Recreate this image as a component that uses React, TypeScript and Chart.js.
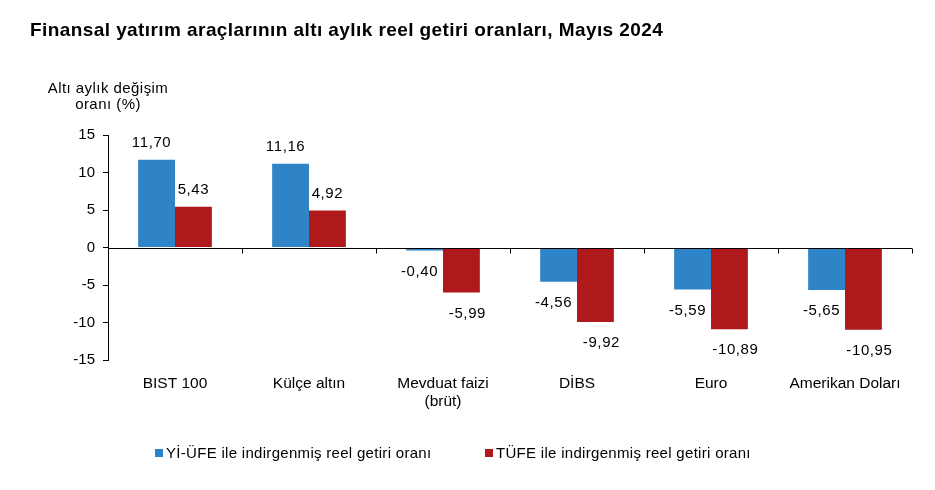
import React, { useEffect, useRef } from 'react';
import { Chart, registerables } from 'chart.js';

Chart.register(...registerables);

const titleText = 'Finansal yatırım araçlarının altı aylık reel getiri oranları, Mayıs 2024';
const yAxisTitle = ['Altı aylık değişim', 'oranı (%)'];
const categories = [['BIST 100'], ['Külçe altın'], ['Mevduat faizi', '(brüt)'], ['DİBS'], ['Euro'], ['Amerikan Doları']];
const seriesNames = ['Yİ-ÜFE ile indirgenmiş reel getiri oranı', 'TÜFE ile indirgenmiş reel getiri oranı'];
const yiUfe = [11.7, 11.16, -0.4, -4.56, -5.59, -5.65];
const tufe = [5.43, 4.92, -5.99, -9.92, -10.89, -10.95];
const yMin = -15;
const yMax = 15;
const yStep = 5;

const BLUE = '#2E84C6';
const RED = '#B0191B';
const FONT = '"Liberation Sans", Arial, sans-serif';

const fmt = (v: number) => v.toFixed(2).replace('.', ',');

const overlay = {
  id: 'overlay',
  afterDatasetsDraw(chart: any) {
    const ctx = chart.ctx;
    const { left, right } = chart.chartArea;
    const y = chart.scales.y;
    const x = chart.scales.x;
    const y0 = Math.round(y.getPixelForValue(0)) + 0.5;
    ctx.save();
    ctx.strokeStyle = '#000';
    ctx.lineWidth = 1;
    ctx.beginPath();
    ctx.moveTo(left, y0);
    ctx.lineTo(right, y0);
    const n = categories.length;
    for (let i = 0; i < n; i++) {
      const bx = i < n - 1 ? (x.getPixelForValue(i) + x.getPixelForValue(i + 1)) / 2 : right;
      const px = Math.round(bx) + 0.5;
      ctx.moveTo(px, y0);
      ctx.lineTo(px, y0 + 5);
    }
    ctx.stroke();

    ctx.fillStyle = '#000';
    ctx.font = `15px ${FONT}`;
    (ctx as any).letterSpacing = '0.6px';
    ctx.textAlign = 'center';
    ctx.textBaseline = 'middle';
    chart.data.datasets.forEach((ds: any, di: number) => {
      const meta = chart.getDatasetMeta(di);
      meta.data.forEach((el: any, i: number) => {
        const v = ds.data[i];
        let dx = 0;
        if (di === 0) dx = -5;
        else if (v < 0) dx = 6;
        const ty = v >= 0 ? el.y - 17 : el.y + 21;
        ctx.fillText(fmt(v), el.x + dx, ty);
      });
    });
    (ctx as any).letterSpacing = '0px';
    ctx.restore();
  },
  afterDraw(chart: any) {
    const ctx = chart.ctx;
    ctx.save();
    ctx.fillStyle = '#000';
    ctx.textBaseline = 'alphabetic';
    ctx.textAlign = 'left';
    ctx.font = `bold 19px ${FONT}`;
    (ctx as any).letterSpacing = '0.42px';
    ctx.fillText(titleText, 30, 36);

    ctx.textBaseline = 'middle';
    ctx.font = `15px ${FONT}`;
    (ctx as any).letterSpacing = '0.45px';
    ctx.textAlign = 'center';
    ctx.fillText(yAxisTitle[0], 108, 89);
    ctx.fillText(yAxisTitle[1], 108, 105);

    ctx.textAlign = 'left';
    ctx.font = `15px ${FONT}`;
    (ctx as any).letterSpacing = '0.3px';
    const items = [
      { x: 155, color: BLUE, text: seriesNames[0] },
      { x: 485, color: RED, text: seriesNames[1] },
    ];
    items.forEach((it) => {
      ctx.fillStyle = it.color;
      ctx.fillRect(it.x, 449, 8, 8);
      ctx.fillStyle = '#000';
      ctx.fillText(it.text, it.x + 11, 454);
    });
    (ctx as any).letterSpacing = '0px';
    ctx.restore();
  },
};

export default function App() {
  const ref = useRef<HTMLCanvasElement>(null);
  useEffect(() => {
    const chart = new Chart(ref.current as HTMLCanvasElement, {
      type: 'bar',
      data: {
        labels: categories as any,
        datasets: [
          { label: seriesNames[0], data: yiUfe, backgroundColor: BLUE, borderWidth: 0 },
          { label: seriesNames[1], data: tufe, backgroundColor: RED, borderWidth: 0 },
        ],
      },
      options: {
        responsive: false,
        animation: false,
        devicePixelRatio: 1,
        layout: { padding: { top: 135, right: 23, left: 0, bottom: 0 } },
        plugins: {
          legend: { display: false },
          title: { display: false },
          tooltip: { enabled: false },
        },
        datasets: { bar: { categoryPercentage: 0.55, barPercentage: 1 } },
        scales: {
          x: {
            grid: { display: false, drawTicks: false },
            border: { display: false },
            ticks: {
              color: '#000',
              font: { family: FONT, size: 15.5 },
              padding: 14,
              maxRotation: 0,
              autoSkip: false,
            },
            afterFit: (s: any) => {
              s.height = 130;
            },
          },
          y: {
            min: yMin,
            max: yMax,
            ticks: {
              stepSize: yStep,
              color: '#000',
              font: { family: FONT, size: 15 },
              padding: 8,
              callback: (v: any) => String(v),
            },
            grid: { display: true, drawOnChartArea: false, drawTicks: true, tickLength: 5, color: '#000' },
            border: { display: true, color: '#000', width: 1 },
            afterFit: (s: any) => {
              s.width = 108;
            },
          },
        },
      },
      plugins: [overlay],
    });
    return () => chart.destroy();
  }, []);
  return (
    <div style={{ position: 'fixed', left: 0, top: 0, width: 935, height: 490, background: '#fff' }}>
      <canvas ref={ref} width={935} height={490} style={{ width: 935, height: 490, display: 'block' }} />
    </div>
  );
}
